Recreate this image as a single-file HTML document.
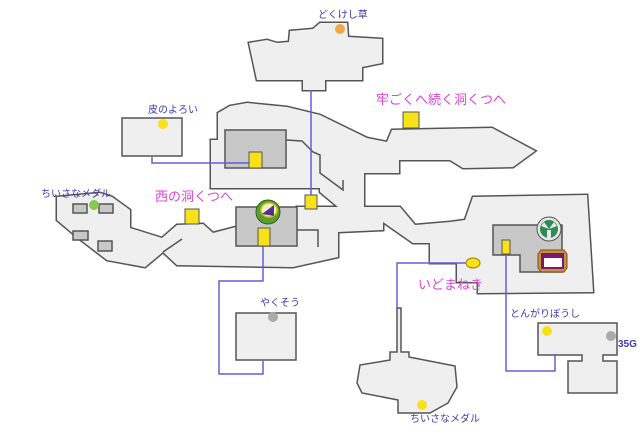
<!DOCTYPE html>
<html><head><meta charset="utf-8"><style>
html,body{margin:0;padding:0;background:#fff;width:640px;height:434px;overflow:hidden}
svg{display:block}
text{font-family:"Liberation Sans","Noto Sans CJK JP",sans-serif}
.b{fill:#3a3ab8;font-size:10px}
.m{fill:#e045d5;font-size:13px}
</style></head><body>
<svg width="640" height="434" viewBox="0 0 640 434">
<defs>
<g id="floor">
<polygon points="249,43 267,40 277,43 289,42 290,31 313,29 320,23 347,23 348,37 382,39 382,63 362,67 362,80 325,80 325,90 303,90 303,80 257,80"/>
<polygon points="211,140 218,140 218,113 230,106 247,103 287,107 320,115 367,138 387,142 392,130 492,128 535,151 513,167 463,168 450,160 399,160 399,173 364,173 364,207 338,207 320,192 320,188 211,188"/>
<polygon points="57,197 100,193 112,197 130,210 130,228 162,238 177,225 203,224 213,233 236,227 236,246 297,246 297,207 338,207 338,257 293,267 177,265 163,252 145,267 107,260 77,237 57,220"/>
<polygon points="338,207 364,207 400,207 415,225 450,222 465,220 473,197 587,195 593,292 478,293 478,282 457,282 457,263 430,263 430,243 413,243 383,222 383,230 338,232"/>
</g>
</defs>
<g fill="none" stroke="#555" stroke-width="3"><use href="#floor"/></g>
<g fill="#efefef" stroke="none"><use href="#floor"/></g>
<g fill="none" stroke="#555" stroke-width="1.5">
<polyline points="286,140 302,141 313,152 320,155 320,173 343,190 343,180"/>
<polyline points="163,252 182,239"/>
<polyline points="297,230 318,230 318,247"/>
</g>
<g fill="#efefef" stroke="#555" stroke-width="1.5">
<rect x="122" y="118" width="60" height="38"/>
<rect x="236" y="313" width="60" height="47"/>
<polygon points="397,308 401,308 401,352 409,352 409,357 455,366 457,387 448,403 430,413 398,413 398,400 362,393 357,383 360,365 390,360 390,352 397,352"/>
<polygon points="538,323 617,323 617,355 603,355 603,361 617,361 617,393 568,393 568,361 582,361 582,355 538,355"/>
</g>
<g fill="#c8c8c8" stroke="#555" stroke-width="1.5">
<rect x="225" y="130" width="61" height="38"/>
<rect x="236" y="207" width="61" height="39"/>
<polygon points="493,225 562,225 562,272 520,272 520,255 493,255"/>
<rect x="73" y="204" width="14" height="9"/>
<rect x="99" y="204" width="14" height="9"/>
<rect x="73" y="231" width="15" height="9"/>
<rect x="98" y="241" width="14" height="10"/>
</g>
<g fill="none" stroke="#6060d8" stroke-width="1.5">
<polyline points="152,157 152,163 255,163"/>
<line x1="311" y1="90" x2="311" y2="197"/>
<polyline points="263,245 263,281 219,281 219,374 263,374 263,361"/>
<polyline points="397,308 397,263 467,263"/>
<polyline points="506,253 506,371 555,371 555,354"/>
</g>
<g fill="#f7e21a" stroke="#555" stroke-width="1">
<rect x="249" y="152" width="13" height="16"/>
<rect x="185" y="209" width="14" height="15"/>
<rect x="305" y="195" width="12" height="14"/>
<rect x="258" y="228" width="12" height="18"/>
<rect x="403" y="112" width="16" height="16"/>
<rect x="502" y="240" width="8" height="14"/>
<ellipse cx="473" cy="263" rx="7" ry="5" stroke="#a08000"/>
</g>
<g stroke="none">
<circle cx="163" cy="124" r="5" fill="#f7e21a"/>
<circle cx="340" cy="29" r="5" fill="#f0a848"/>
<circle cx="273" cy="317" r="5" fill="#aaa"/>
<circle cx="94" cy="205" r="5" fill="#88c850"/>
<circle cx="422" cy="405" r="5" fill="#f7e21a"/>
<circle cx="547" cy="331" r="5" fill="#f7e21a"/>
<circle cx="611" cy="336" r="5" fill="#aaa"/>
</g>
<!-- green ring icon -->
<g>
<ellipse cx="268" cy="212" rx="12" ry="12" fill="#5aa030" stroke="#2a6020" stroke-width="1"/>
<ellipse cx="269" cy="210" rx="8" ry="7" fill="#f5f0c0" stroke="#d8c020" stroke-width="1.5"/>
<polygon points="262,214 274,205 274,216" fill="#5030a0"/>
</g>
<!-- chest icon -->
<g>
<circle cx="549" cy="229" r="12" fill="#e8e8e8" stroke="#555"/>
<circle cx="549" cy="229" r="9" fill="#2f8a55"/>
<polygon points="549,229 541,226 544,222" fill="#e8e8e8"/>
<polygon points="549,229 557,226 554,222" fill="#e8e8e8"/>
<polygon points="547,230 551,230 551,238 547,238" fill="#e8e8e8"/>
</g>
<!-- purple box -->
<g>
<polygon points="541,250 564,250 567,254 567,268 564,272 541,272 538,268 538,254" fill="#c89040" stroke="#705020"/>
<rect x="541" y="253" width="23" height="16" fill="#7a1a6a"/>
<rect x="544" y="258" width="18" height="9" fill="#fff"/>
</g>
<text class="b" x="318" y="18">どくけし草</text>
<text class="b" x="148" y="113">皮のよろい</text>
<text class="m" x="376" y="104">牢ごくへ続く洞くつへ</text>
<text class="m" x="155" y="201">西の洞くつへ</text>
<text class="b" x="41" y="197">ちいさなメダル</text>
<text class="b" x="260" y="306">やくそう</text>
<text class="m" x="418" y="289">いどまねき</text>
<text class="b" x="510" y="317">とんがりぼうし</text>
<text class="b" x="618" y="347" font-weight="bold">35G</text>
<text class="b" x="410" y="422">ちいさなメダル</text>
</svg>
</body></html>
